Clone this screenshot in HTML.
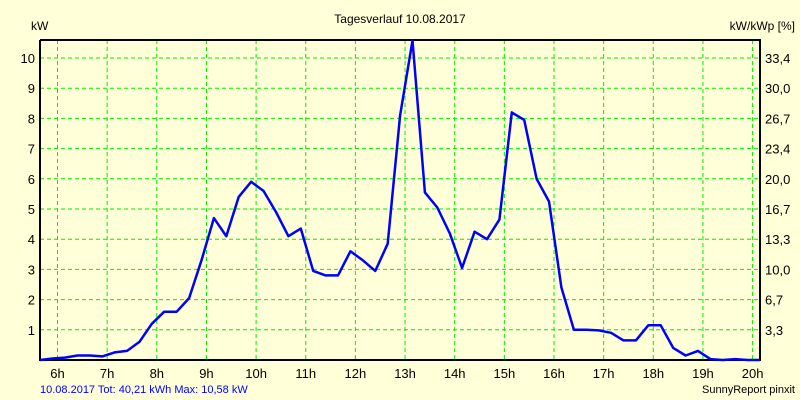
<!DOCTYPE html>
<html><head><meta charset="utf-8"><style>
body{margin:0;background:#ffffd8;}
svg{display:block;font-family:"Liberation Sans",sans-serif;}
</style></head><body>
<svg id="chart" width="800" height="400" xmlns="http://www.w3.org/2000/svg">
<rect width="800" height="400" fill="#ffffd8"/>
<text x="400" y="23" text-anchor="middle" font-size="12">Tagesverlauf 10.08.2017</text>
<text x="31" y="30" font-size="12">kW</text>
<text x="795" y="30" text-anchor="end" font-size="12">kW/kWp [%]</text>
<g id="grid"></g>
<g id="axes"></g>
<g id="series"></g>
<text x="40" y="393" font-size="11" fill="#0000ff">10.08.2017 Tot: 40,21 kWh Max: 10,58 kW</text>
<text x="795" y="393" text-anchor="end" font-size="11">SunnyReport pinxit</text>
</svg>
<script>
const hourTicks=[6,7,8,9,10,11,12,13,14,15,16,17,18,19,20];
const kwTicks=[1,2,3,4,5,6,7,8,9,10];
const pctLabels=["3,3","6,7","10,0","13,3","16,7","20,0","23,4","26,7","30,0","33,4"];
const startTime=5.65;
const stepHours=0.25;
const power=[0,0.05,0.08,0.15,0.15,0.12,0.25,0.3,0.6,1.2,1.6,1.6,2.05,3.3,4.7,4.1,5.4,5.9,5.6,4.9,4.1,4.35,2.95,2.8,2.8,3.6,3.3,2.95,3.85,8.1,10.58,5.55,5.05,4.2,3.05,4.25,4.0,4.65,8.2,7.95,6.0,5.25,2.4,1.0,1.0,0.98,0.9,0.65,0.65,1.15,1.15,0.4,0.15,0.3,0.03,0.0,0.03,0.0,0.0];
const L=40,R=760,T=40,B=360;
const x=h=>57.5+(h-6)*49.65;
const y=v=>360-v*30.2;
const NS="http://www.w3.org/2000/svg";
function mk(tag,attrs,parent,text){const e=document.createElementNS(NS,tag);for(const k in attrs)e.setAttribute(k,attrs[k]);if(text!==undefined)e.textContent=text;parent.appendChild(e);return e;}
const grid=document.getElementById('grid'),axes=document.getElementById('axes'),ser=document.getElementById('series');
hourTicks.forEach(h=>{
  const l=mk('line',{x1:x(h),x2:x(h),y1:T,y2:B,stroke:'#00ee00','stroke-dasharray':'4,3'},grid);
  
  
  const t=mk('text',{x:x(h),y:378,'text-anchor':'middle','font-size':'13'},axes,h+'h');
  
  
});
kwTicks.forEach((v,i)=>{
  const l=mk('line',{x1:L,x2:R,y1:y(v),y2:y(v),stroke:'#00ee00','stroke-dasharray':'4,3'},grid);
  
  
  const t=mk('text',{x:35,y:y(v)+5,'text-anchor':'end','font-size':'13'},axes,String(v));
  
  
  const t2=mk('text',{x:765,y:y(v)+5,'font-size':'13'},axes,pctLabels[i]);
  
  
});
const fr=mk('path',{d:`M${L},${T}V${B}H${R}V${T}H${L}`,fill:'none',stroke:'#000','stroke-width':'2'},axes);


const pts=power.map((v,i)=>Math.min(R,x(startTime+i*stepHours)).toFixed(1)+','+y(v).toFixed(1)).join(' ');
const pl=mk('polyline',{points:pts,fill:'none',stroke:'#0000ff','stroke-width':'2.5','stroke-linejoin':'round'},ser);


</script>
</body></html>
